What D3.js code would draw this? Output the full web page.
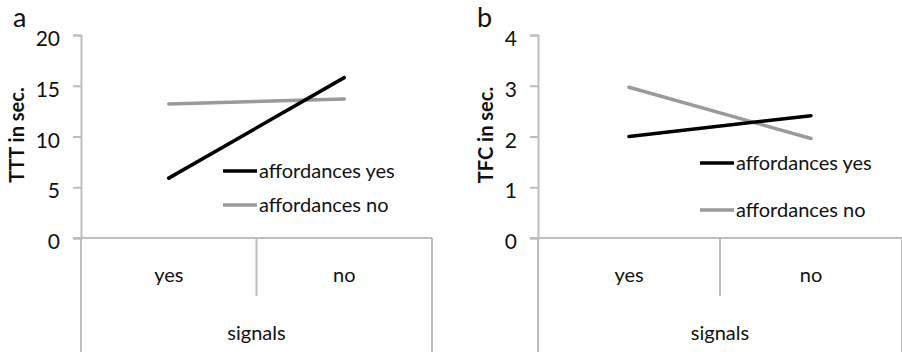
<html>
<head>
	<meta charset="UTF-8">
	<title>TTT and TFC by signals</title>
	<style>
		body { margin: 0; background: #fff; }
		text { font-family: Lato, "Noto Sans", sans-serif; fill: #111; }
		.axis path, .axis line { stroke: #bdbdbd; stroke-width: 2; }
	</style>
</head>
<body>
	<script src="https://cdnjs.cloudflare.com/ajax/libs/d3/7.8.5/d3.min.js"></script>
	<script>
		// values
		var categories = ["yes", "no"];
		var seriesNames = ["affordances yes", "affordances no"];
		var seriesColors = ["#000000", "#9a9a9a"];
		var tttYes = [5.9, 15.8];
		var tttNo = [13.2, 13.7];
		var tttTicks = [0, 5, 10, 15, 20];
		var tfcYes = [2.0, 2.41];
		var tfcNo = [2.97, 1.96];
		var tfcTicks = [0, 1, 2, 3, 4];

		var W = 902, H = 352;
		var svg = d3.select("body").append("svg")
			.attr("width", W)
			.attr("height", H);

		function drawPanel(p) {
			var g = svg.append("g");
			var top = 35, bottom = 238;

			var x = d3.scaleBand()
				.domain(categories)
				.range([p.left, p.right]);
			var y = d3.scaleLinear()
				.domain([0, d3.max(p.ticks)])
				.range([bottom, top]);

			// y axis
			var ya = g.append("g")
				.attr("class", "axis")
				.attr("transform", "translate(" + p.left + ",0)")
				.call(d3.axisLeft(y).tickValues(p.ticks).tickFormat(d3.format("d"))
					.tickSize(8).tickSizeOuter(8).tickPadding(13));
			ya.selectAll("text")
				.style("font-size", "21px")
				.style("font-family", "Lato, sans-serif")
				.attr("fill", "#111")
				.attr("dy", "0.5em");

			// left line continues down through the category area
			g.append("line")
				.attr("x1", p.left).attr("x2", p.left)
				.attr("y1", bottom).attr("y2", H)
				.attr("stroke", "#bdbdbd").attr("stroke-width", 2);

			// x axis baseline
			g.append("line")
				.attr("x1", p.left - 8).attr("x2", p.right)
				.attr("y1", bottom).attr("y2", bottom)
				.attr("stroke", "#bdbdbd").attr("stroke-width", 2);

			// divider between categories
			g.append("line")
				.attr("x1", p.left + x.step()).attr("x2", p.left + x.step())
				.attr("y1", bottom).attr("y2", 296)
				.attr("stroke", "#bdbdbd").attr("stroke-width", 2);

			// right border
			g.append("line")
				.attr("x1", p.right).attr("x2", p.right)
				.attr("y1", bottom).attr("y2", H)
				.attr("stroke", "#bdbdbd").attr("stroke-width", 2);

			// category labels
			var xa = g.append("g")
				.attr("transform", "translate(0," + bottom + ")")
				.call(d3.axisBottom(x).tickSize(0).tickPadding(30));
			xa.select(".domain").remove();
			xa.selectAll("text")
				.style("font-size", "20px")
				.style("font-family", "Lato, sans-serif")
				.attr("fill", "#111");

			g.append("text")
				.attr("x", (p.left + p.right) / 2)
				.attr("y", 340)
				.attr("text-anchor", "middle")
				.style("font-size", "20px")
				.text("signals");

			// y title
			g.append("text")
				.attr("transform", "translate(" + p.titleX + ",135) rotate(-90)")
				.attr("text-anchor", "middle")
				.style("font-size", "20px")
				.style("font-weight", "bold")
				.text(p.title);

			// panel letter
			g.append("text")
				.attr("x", p.letterX)
				.attr("y", 27)
				.style("font-size", "27px")
				.text(p.letter);

			// lines
			var line = d3.line()
				.x(function(d, i) { return x(categories[i]) + x.bandwidth() / 2; })
				.y(function(d) { return y(d); });

			[p.no, p.yes].forEach(function(vals, k) {
				var idx = k === 0 ? 1 : 0;
				g.append("path")
					.datum(vals)
					.attr("d", line)
					.attr("fill", "none")
					.attr("stroke", seriesColors[idx])
					.attr("stroke-width", 3.5)
					.attr("stroke-linecap", "round");
			});

			// legend
			seriesNames.forEach(function(name, i) {
				var ly = p.legendY[i];
				g.append("line")
					.attr("x1", p.legendX).attr("x2", p.legendX + 34)
					.attr("y1", ly).attr("y2", ly)
					.attr("stroke", seriesColors[i])
					.attr("stroke-width", 3.5);
				g.append("text")
					.attr("x", p.legendX + 36)
					.attr("y", ly + 7)
					.style("font-size", "20px")
					.text(name);
			});
		}

		drawPanel({
			left: 81, right: 432, ticks: tttTicks, yes: tttYes, no: tttNo,
			title: "TTT in sec.", titleX: 24, letter: "a", letterX: 13,
			legendX: 223, legendY: [171, 205]
		});

		drawPanel({
			left: 538, right: 902, ticks: tfcTicks, yes: tfcYes, no: tfcNo,
			title: "TFC in sec.", titleX: 493, letter: "b", letterX: 477,
			legendX: 700, legendY: [163, 210]
		});
	</script>
</body>
</html>
